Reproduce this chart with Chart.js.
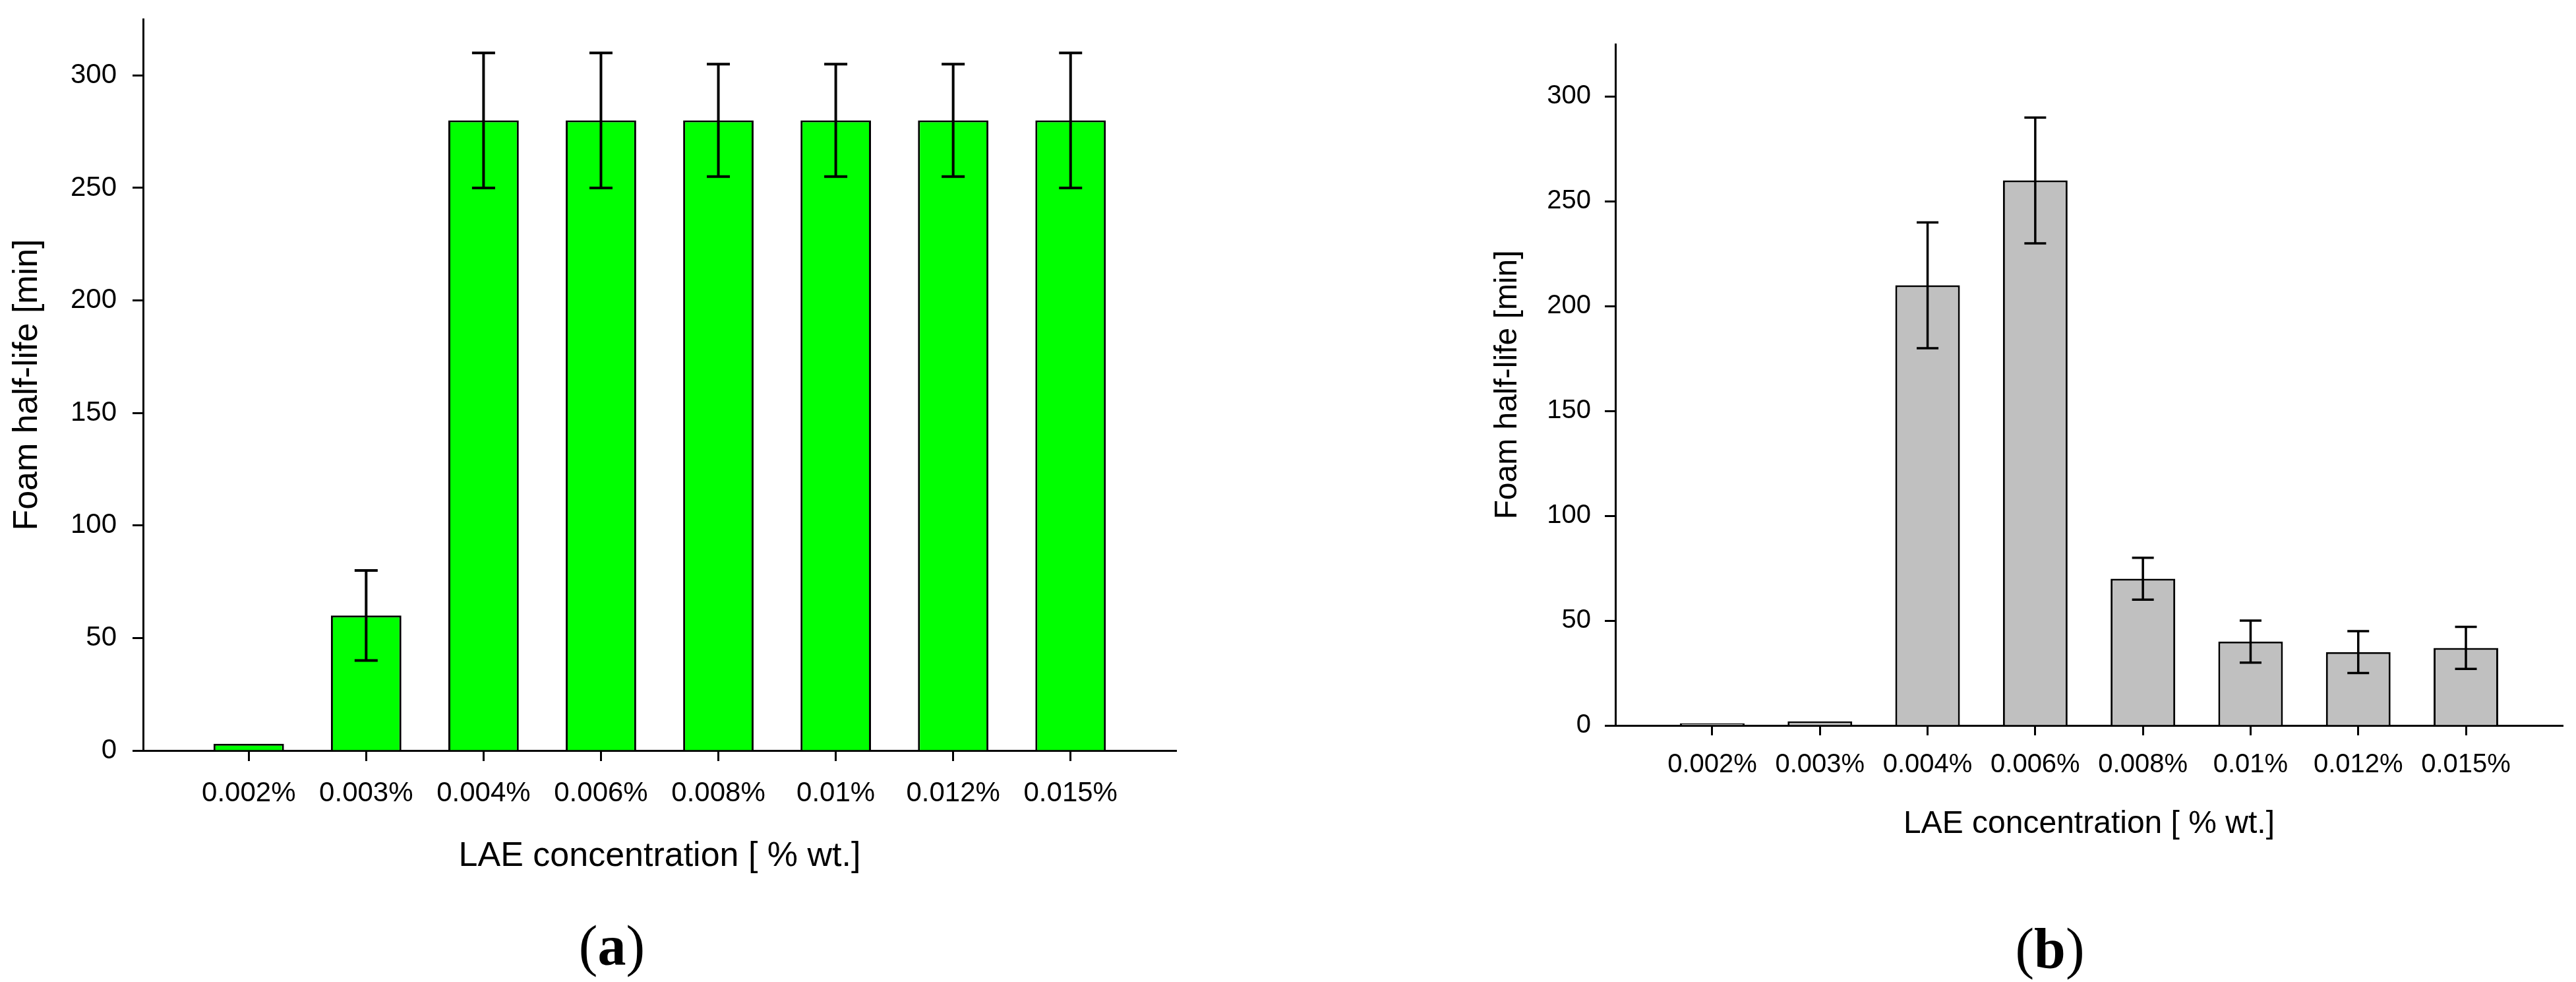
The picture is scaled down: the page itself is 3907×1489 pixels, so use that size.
<!DOCTYPE html>
<html>
<head>
<meta charset="utf-8">
<script src="https://cdn.jsdelivr.net/npm/chart.js@4.4.1/dist/chart.umd.min.js"></script>
<style>
  body { margin: 0; background: #fff; width: 3907px; height: 1489px; position: relative; overflow: hidden; }
  canvas { position: absolute; top: 0; }
  #chartA { left: 0; }
  #chartB { left: 1950px; }
  .caption { position: absolute; font-family: 'Liberation Serif', 'Times New Roman', serif; font-size: 86px; color: #000; transform: translate(-50%, -50%); line-height: 1; }
</style>
</head>
<body>
<canvas id="chartA" width="1950" height="1489"></canvas>
<canvas id="chartB" width="1957" height="1489"></canvas>
<div class="caption" style="left:928px; top:1434px;">(<b>a</b>)</div>
<div class="caption" style="left:3109px; top:1438px;">(<b>b</b>)</div>
<script>
// data
const categories = ['0.002%', '0.003%', '0.004%', '0.006%', '0.008%', '0.01%', '0.012%', '0.015%'];
const yTicks = [0, 50, 100, 150, 200, 250, 300];

const halfLifeA = [3, 60, 280, 280, 280, 280, 280, 280];
const errorA    = [0, 20, 30, 30, 25, 25, 25, 30];

const halfLifeB = [1, 2, 210, 260, 70, 40, 35, 37];
const errorB    = [0, 0, 30, 30, 10, 10, 10, 10];

const xTitle = 'LAE concentration [ % wt.]';
const yTitle = 'Foam half-life [min]';

Chart.defaults.font.family = "'Liberation Sans', Arial, sans-serif";
Chart.defaults.color = '#000';

// error bars drawn on top of the bars
const errorBars = {
  id: 'errorBars',
  afterDatasetsDraw(chart, args, opts) {
    const ctx = chart.ctx;
    const y = chart.scales.y;
    chart.data.datasets.forEach((ds, i) => {
      const meta = chart.getDatasetMeta(i);
      meta.data.forEach((bar, j) => {
        const err = ds.errors[j];
        if (!err) return;
        const v = ds.data[j].y;
        const top = y.getPixelForValue(v + err);
        const bot = y.getPixelForValue(v - err);
        const half = opts.cap / 2;
        ctx.save();
        ctx.strokeStyle = '#000';
        ctx.lineWidth = opts.width;
        ctx.beginPath();
        ctx.moveTo(bar.x, top); ctx.lineTo(bar.x, bot);
        ctx.moveTo(bar.x - half, top); ctx.lineTo(bar.x + half, top);
        ctx.moveTo(bar.x - half, bot); ctx.lineTo(bar.x + half, bot);
        ctx.stroke();
        ctx.restore();
      });
    });
  }
};

function makeChart(id, values, errors, color, s) {
  return new Chart(document.getElementById(id), {
    type: 'bar',
    data: {
      datasets: [{
        data: values.map((v, i) => ({ x: i, y: v })),
        errors: errors,
        backgroundColor: color,
        borderColor: '#000',
        borderWidth: 3,
        barPercentage: 0.6,
        categoryPercentage: 1
      }]
    },
    options: {
      responsive: false,
      animation: false,
      layout: { padding: s.pad },
      plugins: {
        legend: { display: false },
        tooltip: { enabled: false },
        errorBars: { width: s.errW, cap: s.cap }
      },
      scales: {
        x: {
          type: 'linear',
          min: -0.9,
          max: 7.9,
          offset: false,
          afterBuildTicks: (sc) => { sc.ticks = categories.map((c, i) => ({ value: i })); },
          afterFit: (sc) => { sc.height = s.xH; sc.paddingLeft = 0; sc.paddingRight = 0; },
          ticks: {
            autoSkip: false,
            maxRotation: 0,
            padding: s.xTickPad,
            font: { size: s.tickFont },
            callback: (v) => categories[v]
          },
          grid: { drawOnChartArea: false, offset: false, tickLength: s.xTickLen, tickWidth: 3, tickColor: '#000' },
          border: { display: true, color: '#000', width: 3 },
          title: { display: true, text: xTitle, font: { size: s.titleFont }, padding: { top: 0, bottom: s.xTitlePad } }
        },
        y: {
          min: 0,
          max: 325,
          afterBuildTicks: (sc) => { sc.ticks = yTicks.map(v => ({ value: v })); },
          afterFit: (sc) => { sc.width = s.yW; sc.paddingTop = 0; sc.paddingBottom = 0; },
          ticks: { padding: s.yTickPad, font: { size: s.tickFont } },
          grid: { drawOnChartArea: false, tickLength: 16, tickWidth: 3, tickColor: '#000' },
          border: { display: true, color: '#000', width: 3 },
          title: { display: true, text: yTitle, font: { size: s.titleFont }, padding: { top: s.yTitlePad, bottom: 0 } }
        }
      }
    },
    plugins: [errorBars]
  });
}

makeChart('chartA', halfLifeA, errorA, '#00ff00', {
  pad: { left: 0, top: 29, right: 166, bottom: 0 },
  yW: 217, xH: 351,
  tickFont: 42, titleFont: 52,
  xTickPad: 24, xTickLen: 16, yTickPad: 24,
  xTitlePad: 159, yTitlePad: 10,
  errW: 4, cap: 35
});

makeChart('chartB', halfLifeB, errorB, '#c0c0c0', {
  pad: { left: 300, top: 67, right: 20, bottom: 0 },
  yW: 200, xH: 389,
  tickFont: 40, titleFont: 48,
  xTickPad: 21, xTickLen: 15, yTickPad: 21,
  xTitlePad: 210, yTitlePad: 8,
  errW: 3.5, cap: 33
});
</script>
</body>
</html>
